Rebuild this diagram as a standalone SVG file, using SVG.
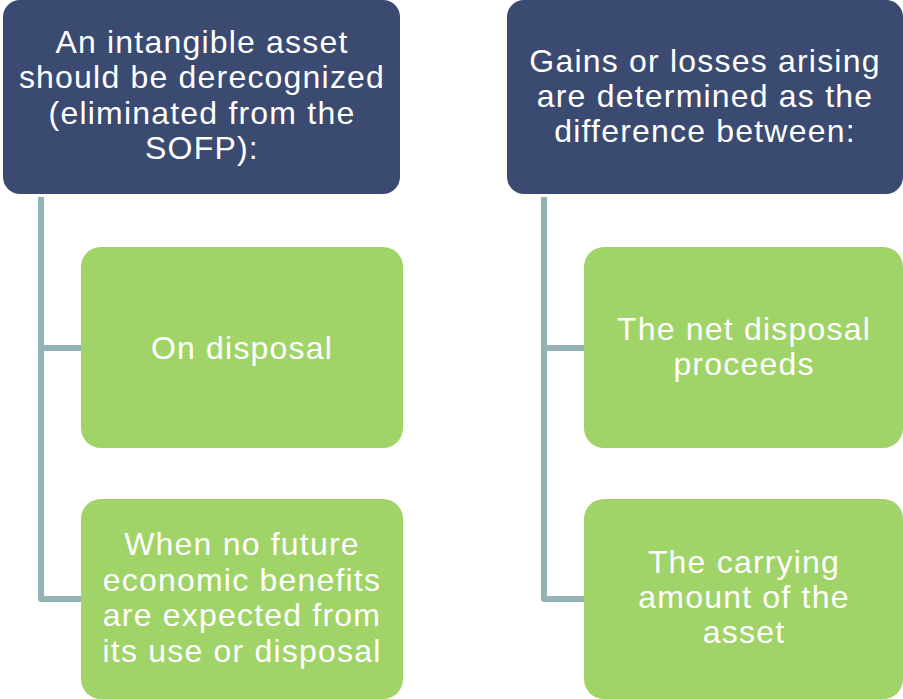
<svg xmlns="http://www.w3.org/2000/svg" width="903" height="699" viewBox="0 0 903 699">
<style>
.hdr{fill:#3B4A71}
.box{fill:#A0D468}
.t{font-family:"Liberation Sans",Arial,sans-serif;font-size:32px;letter-spacing:1.2px;fill:#FFFFFF;text-anchor:middle}
.conn{fill:none;stroke:#94B3B7;stroke-width:6;stroke-linejoin:round}
</style>
<rect width="903" height="699" fill="#FFFFFF"/>
<g id="connectors">
<path class="conn" d="M41,197 V599 H81"/>
<path class="conn" d="M41,348 H81"/>
<path class="conn" d="M544,197 V599 H584"/>
<path class="conn" d="M544,348 H584"/>
</g>
<g id="header-left">
<rect class="hdr" x="3" y="0" width="397" height="194" rx="17"/>
<text class="t"><tspan x="202" y="53">An intangible asset</tspan><tspan x="202" y="88">should be derecognized</tspan><tspan x="202" y="124">(eliminated from the</tspan><tspan x="202" y="159">SOFP):</tspan></text>
</g>
<g id="header-right">
<rect class="hdr" x="507" y="0" width="396" height="194" rx="17"/>
<text class="t"><tspan x="705" y="72">Gains or losses arising</tspan><tspan x="705" y="107">are determined as the</tspan><tspan x="705" y="142">difference between:</tspan></text>
</g>
<g id="node-on-disposal">
<rect class="box" x="81" y="247" width="322" height="201" rx="20"/>
<text class="t"><tspan x="242" y="359">On disposal</tspan></text>
</g>
<g id="node-no-benefits">
<rect class="box" x="81" y="499" width="322" height="200" rx="20"/>
<text class="t"><tspan x="242" y="555">When no future</tspan><tspan x="242" y="591">economic benefits</tspan><tspan x="242" y="626">are expected from</tspan><tspan x="242" y="662">its use or disposal</tspan></text>
</g>
<g id="node-net-proceeds">
<rect class="box" x="584" y="247" width="319" height="201" rx="20"/>
<text class="t"><tspan x="744" y="340">The net disposal</tspan><tspan x="744" y="375">proceeds</tspan></text>
</g>
<g id="node-carrying">
<rect class="box" x="584" y="499" width="319" height="200" rx="20"/>
<text class="t"><tspan x="744" y="573">The carrying</tspan><tspan x="744" y="608">amount of the</tspan><tspan x="744" y="643">asset</tspan></text>
</g>
</svg>
